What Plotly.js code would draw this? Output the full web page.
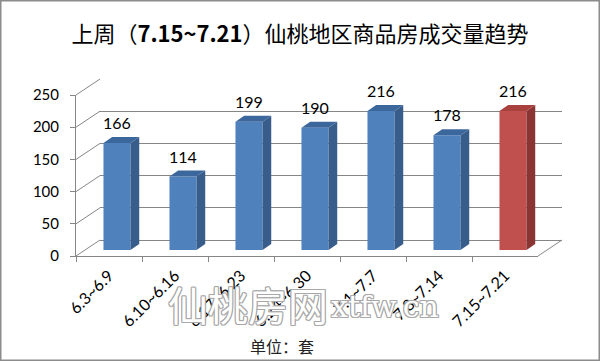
<!DOCTYPE html>
<html><head><meta charset="utf-8">
<script src="https://cdn.plot.ly/plotly-3.0.1.min.js"></script>
<style>html,body{margin:0;padding:0;background:#fff}#chart{width:600px;height:361px}</style>
</head><body><div id="chart"></div>
<script>
// ---- data ----
const categories = ['6.3~6.9','6.10~6.16','6.17~6.23','6.24~6.30','7.1~7.7','7.8~7.14','7.15~7.21'];
const values = [166, 114, 199, 190, 216, 178, 216];
const yTicks = [0, 50, 100, 150, 200, 250];
const titleText = '上周（<b>7.15~7.21</b>）仙桃地区商品房成交量趋势';
const unitText = '单位：套';

// ---- geometry (pixels) ----
const W = 600, H = 361;
const px = x => x / W, py = y => 1 - y / H;
const FX0 = 76, FX1 = 538, FY0 = 256, FYT = 95;     // front plane
const BDX = 24, BDY = -16;                           // front -> back wall offset
const PDX = 8, PDY = -6;                             // front -> bar plane offset
const YMAX = 250;
const pxPerUnitX = (FX1 - FX0) / categories.length;
const pxPerUnitY = (FY0 - FYT) / YMAX;
const BAR_W = 0.41;
const DDX = 8.7 / pxPerUnitX;   // bar depth in x units
const DDY = 6 / pxPerUnitY;     // bar depth in y units

const AX = '#868686';
const idx = categories.map((c, i) => i);
const isLast = i => i === categories.length - 1;
const frontCol = i => isLast(i) ? '#C0504D' : '#4F81BD';
const sideCol = i => isLast(i) ? '#8A3533' : '#385D8A';
const topCol = i => isLast(i) ? '#A8413E' : '#3C679C';

// back wall (x/y), front axes (x2/y2), bars (x3/y3)
const traces = [
  {x: idx, y: values, xaxis: 'x', yaxis: 'y', type: 'scatter', mode: 'none', hoverinfo: 'skip', showlegend: false},
  {x: categories, y: values, xaxis: 'x2', yaxis: 'y2', type: 'scatter', mode: 'none', hoverinfo: 'skip', showlegend: false},
  {x: idx, y: values, xaxis: 'x3', yaxis: 'y3', type: 'bar', width: BAR_W,
   marker: {color: idx.map(frontCol), line: {width: 0}}, hoverinfo: 'skip', showlegend: false}
];

const shapes = [];
// left wall diagonals
yTicks.forEach(v => {
  const yf = FY0 - v * pxPerUnitY;
  shapes.push({type: 'line', xref: 'paper', yref: 'paper', layer: 'below',
    x0: px(FX0), y0: py(yf), x1: px(FX0 + BDX), y1: py(yf + BDY), line: {color: AX, width: 1}});
});
// floor right diagonal
shapes.push({type: 'line', xref: 'paper', yref: 'paper', layer: 'below',
  x0: px(FX1), y0: py(FY0), x1: px(FX1 + BDX), y1: py(FY0 + BDY), line: {color: AX, width: 1}});
// bar side & top faces
values.forEach((v, i) => {
  const r = i + BAR_W / 2, l = i - BAR_W / 2;
  shapes.push({type: 'path', xref: 'x3', yref: 'y3', line: {width: 0}, fillcolor: sideCol(i),
    path: `M${r},0 L${r + DDX},${DDY} L${r + DDX},${v + DDY} L${r},${v} Z`});
  shapes.push({type: 'path', xref: 'x3', yref: 'y3', line: {width: 0}, fillcolor: topCol(i),
    path: `M${l},${v} L${l + DDX},${v + DDY} L${r + DDX},${v + DDY} L${r},${v} Z`});
});
// outer border
shapes.push({type: 'rect', xref: 'paper', yref: 'paper', x0: 0, y0: 0, x1: 1, y1: 1,
  line: {color: '#8c8c8c', width: 3}});

const annotations = values.map((v, i) => ({
  xref: 'x3', yref: 'y3', x: i, y: v + DDY, text: String(v), showarrow: false,
  xanchor: 'center', yanchor: 'bottom', yshift: 3, font: {family: 'Lato, sans-serif', size: 16, color: '#000'}
}));
const wmShadow = '1px 0 0 #a8a8a8, -1px 0 0 #a8a8a8, 0 1px 0 #a8a8a8, 0 -1px 0 #a8a8a8, 1px 1px 0 #a8a8a8, -1px -1px 0 #a8a8a8, 1px -1px 0 #a8a8a8, -1px 1px 0 #a8a8a8';
annotations.push({xref: 'paper', yref: 'paper', x: px(248), y: py(304), xanchor: 'center', yanchor: 'middle',
  text: '仙桃房网', showarrow: false,
  font: {family: 'Noto Sans CJK SC', size: 40, color: '#ffffff', shadow: wmShadow}});
annotations.push({xref: 'paper', yref: 'paper', x: px(385), y: py(306), xanchor: 'center', yanchor: 'middle',
  text: 'xtfw.cn', showarrow: false,
  font: {family: 'DejaVu Serif', size: 30, color: '#ffffff', shadow: wmShadow}});
annotations.push({xref: 'paper', yref: 'paper', x: px(282), y: py(346), xanchor: 'center', yanchor: 'middle',
  text: unitText, showarrow: false, font: {family: 'Noto Sans CJK SC', size: 16, color: '#222'}});

const hidden = {showgrid: false, zeroline: false, showline: false, showticklabels: false, ticks: ''};

const layout = {
  width: W, height: H, margin: {l: 0, r: 0, t: 0, b: 0},
  paper_bgcolor: '#fff', plot_bgcolor: 'rgba(0,0,0,0)',
  title: {text: titleText, x: 0.5, xanchor: 'center', y: py(34), yanchor: 'middle',
          font: {family: 'Noto Sans CJK SC', size: 22, color: '#000'}},
  xaxis: Object.assign({}, hidden, {domain: [px(FX0 + BDX), px(FX1 + BDX)], range: [-0.5, categories.length - 0.5], anchor: 'y', fixedrange: true}),
  yaxis: {domain: [py(FY0 + BDY), py(FYT + BDY)], range: [0, YMAX], anchor: 'x', tickvals: yTicks,
          showgrid: true, gridcolor: AX, gridwidth: 1, zeroline: true, zerolinecolor: AX, zerolinewidth: 1,
          showticklabels: false, ticks: '', showline: false, fixedrange: true},
  xaxis2: {domain: [px(FX0), px(FX1)], anchor: 'y2', type: 'category', range: [-0.5, categories.length - 0.5],
           showline: true, linecolor: AX, linewidth: 1, ticks: 'outside', tickson: 'boundaries', ticklen: 5,
           tickcolor: AX, tickangle: -45, showgrid: false, tickfont: {family: 'Lato, sans-serif', size: 16, color: '#000'},
           ticklabelstandoff: 3, fixedrange: true},
  yaxis2: {domain: [py(FY0), py(FYT)], anchor: 'x2', range: [0, YMAX], tickvals: yTicks,
           showline: true, linecolor: AX, linewidth: 1, ticks: 'outside', ticklen: 5, tickcolor: AX,
           showgrid: false, zeroline: false, tickfont: {family: 'Lato, sans-serif', size: 15, color: '#000'},
           ticklabelstandoff: 8, fixedrange: true},
  xaxis3: Object.assign({}, hidden, {domain: [px(FX0 + PDX), px(FX1 + PDX)], range: [-0.5, categories.length - 0.5], anchor: 'y3', fixedrange: true}),
  yaxis3: Object.assign({}, hidden, {domain: [py(FY0 + PDY), py(FYT + PDY)], range: [0, YMAX], anchor: 'x3', fixedrange: true}),
  shapes: shapes, annotations: annotations, showlegend: false
};

Plotly.newPlot('chart', traces, layout, {staticPlot: true, displayModeBar: false});
</script></body></html>
